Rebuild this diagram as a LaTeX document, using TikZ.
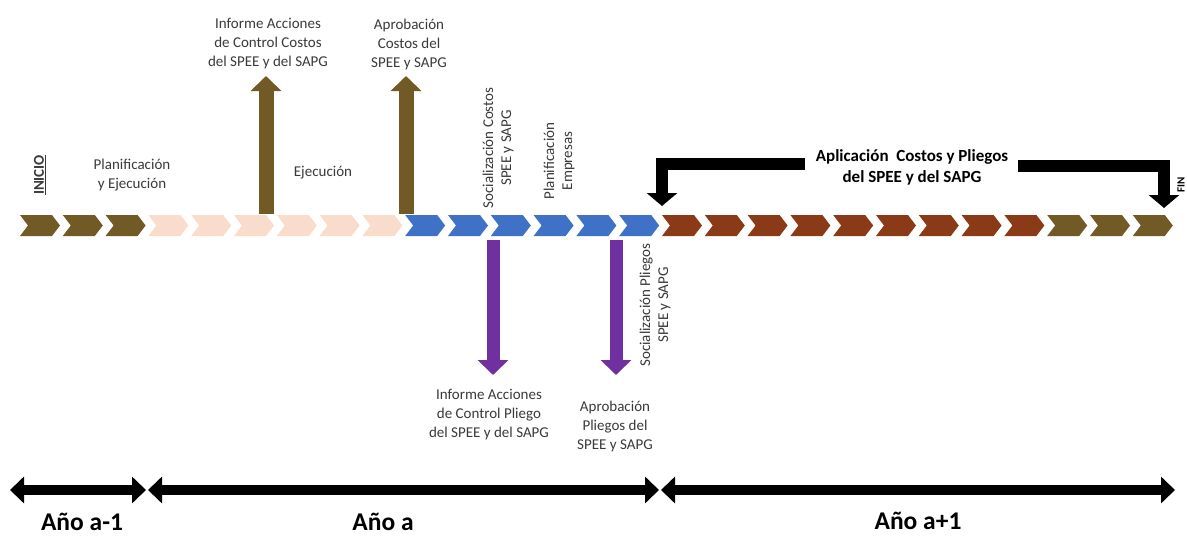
\documentclass[tikz,border=0pt]{standalone}
\usepackage{fontspec}
\setmainfont{Carlito}
\usetikzlibrary{arrows.meta}
\definecolor{cOlive}{HTML}{725A26}
\definecolor{cPeach}{HTML}{FADCCD}
\definecolor{cBlue}{HTML}{3F72C6}
\definecolor{cRust}{HTML}{8A3A17}
\definecolor{cPurple}{HTML}{7030A0}
\definecolor{cText}{HTML}{3A3A3A}
\begin{document}
\begin{tikzpicture}[x=1pt,y=-1pt,
  lbl/.style={text=cText, font=\fontsize{15}{19}\selectfont, align=center, inner sep=0pt},
  rlbl/.style={text=cText, font=\fontsize{15}{18}\selectfont, align=center, inner sep=0pt, rotate=90},
  yr/.style={font=\bfseries\fontsize{25.5}{28}\selectfont, inner sep=0pt},
  uparr/.style={line width=15pt, draw=cOlive, -{Triangle[width=30pt,length=15pt]}},
  dnarr/.style={line width=13pt, draw=cPurple, -{Triangle[width=30pt,length=15pt]}},
  elb/.style={line width=12pt, draw=black, -{Triangle[width=30pt,length=13pt]}},
  yrarr/.style={line width=10pt, draw=black, {Triangle[width=26pt,length=14pt]}-{Triangle[width=26pt,length=14pt]}}
]
\useasboundingbox (0,0) rectangle (1187,536);
\fill[white] (0,0) rectangle (1187,536);

% chevrons
\newcommand{\chev}[2]{\fill[#2] ({20+42.8*#1},215) -- ++(32,0) -- ++(8,10.5) -- ++(-8,10.5) -- ++(-32,0) -- ++(8,-10.5) -- cycle;}
\foreach \i in {0,1,2} {\chev{\i}{cOlive}}
\foreach \i in {3,...,8} {\chev{\i}{cPeach}}
\foreach \i in {9,...,14} {\chev{\i}{cBlue}}
\foreach \i in {15,...,23} {\chev{\i}{cRust}}
\foreach \i in {24,25,26} {\chev{\i}{cOlive}}

% labels above
\node[rotate=90, inner sep=0pt, font=\bfseries\fontsize{15}{17}\selectfont, text=cText] (inicio) at (40,175) {\underline{INICIO}};
\node[lbl] (plan) at (132,175) {Planificación\\y Ejecución};
\node[lbl] (ejec) at (323,173) {Ejecución};
\node[lbl] (inf1) at (268,44) {Informe Acciones\\de Control Costos\\del SPEE y del SAPG};
\node[lbl] (apr1) at (409,44) {Aprobación\\Costos del\\SPEE y SAPG};
\node[rlbl] (soc1) at (498,148) {Socialización Costos\\SPEE y SAPG};
\node[rlbl] (plemp) at (559,161) {Planificación\\Empresas};
\node[font=\bfseries\fontsize{17}{21}\selectfont, align=center, inner sep=0pt] (apl) at (912,167) {Aplicación\ \ Costos y Pliegos\\del SPEE y del SAPG};
\node[rotate=90, inner sep=0pt, font=\bfseries\fontsize{11}{13}\selectfont] (fin) at (1181,185) {FIN};

% labels below
\node[rlbl] (soc2) at (655,305) {Socialización Pliegos\\SPEE y SAPG};
\node[lbl] (inf2) at (489,415) {Informe Acciones\\de Control Pliego\\del SPEE y del SAPG};
\node[lbl] (apr2) at (615,426) {Aprobación\\Pliegos del\\SPEE y SAPG};

% up arrows
\coordinate (u1s) at (266,214); \coordinate (u1e) at (266,76);
\coordinate (u2s) at (406,214); \coordinate (u2e) at (406,76);
\draw[uparr] (u1s) -- (u1e);
\draw[uparr] (u2s) -- (u2e);

% down arrows
\coordinate (d1s) at (493,240); \coordinate (d1e) at (493,375);
\coordinate (d2s) at (616,240); \coordinate (d2e) at (616,375);
\draw[dnarr] (d1s) -- (d1e);
\draw[dnarr] (d2s) -- (d2e);

% elbow arrows
\coordinate (e1s) at (805,164); \coordinate (e1t) at (662,206);
\coordinate (e2s) at (1018,166); \coordinate (e2t) at (1164,208);
\draw[elb] (e1s) -| (e1t);
\draw[elb] (e2s) -| (e2t);

% year arrows
\coordinate (y0) at (10,490);
\coordinate (y1a) at (146,490); \coordinate (y1b) at (148,490);
\coordinate (y2a) at (659,490); \coordinate (y2b) at (661,490);
\coordinate (y3) at (1175,490);
\draw[yrarr] (y0) -- (y1a);
\draw[yrarr] (y1b) -- (y2a);
\draw[yrarr] (y2b) -- (y3);
\node[yr] (ya1) at (82,522) {Año a-1};
\node[yr] (ya) at (383,522) {Año a};
\node[yr] (ya2) at (918,521) {Año a+1};
\end{tikzpicture}
\end{document}
